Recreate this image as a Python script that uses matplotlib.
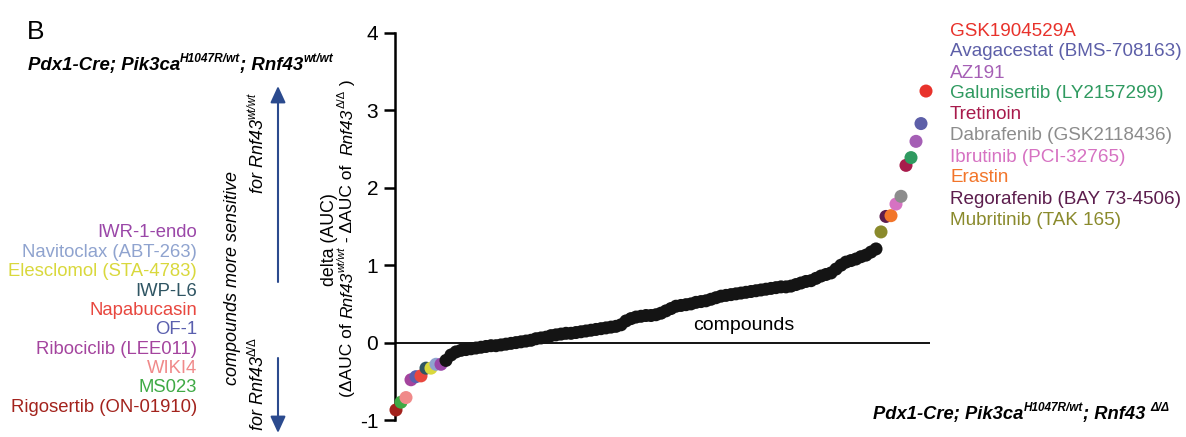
import numpy as np
import matplotlib
matplotlib.use('Agg')
import matplotlib.pyplot as plt

W, H = 1186, 437

# compounds more sensitive for Rnf43 del/del (lowest delta first)
left_names = ['Rigosertib (ON-01910)', 'MS023', 'WIKI4', 'Ribociclib (LEE011)', 'OF-1',
              'Napabucasin', 'IWP-L6', 'Elesclomol (STA-4783)', 'Navitoclax (ABT-263)', 'IWR-1-endo']
left_vals = [-0.87, -0.77, -0.71, -0.48, -0.44, -0.43, -0.33, -0.33, -0.28, -0.28]
left_colors = ['#a3231d', '#3faa45', '#f08a8a', '#a4449e', '#5a5fae',
               '#e8473f', '#2f5563', '#d9d83c', '#8fa3cf', '#9a47a8']

# all other compounds, sorted
mid_vals = [-0.23, -0.16, -0.12, -0.10, -0.09, -0.08, -0.07, -0.06, -0.05, -0.04,
            -0.04, -0.03, -0.02, -0.01, 0.00, 0.01, 0.02, 0.03, 0.05, 0.06,
            0.07, 0.09, 0.10, 0.11, 0.12, 0.12, 0.13, 0.14, 0.15, 0.16,
            0.17, 0.18, 0.19, 0.20, 0.21, 0.23, 0.28, 0.31, 0.33, 0.34,
            0.35, 0.35, 0.36, 0.38, 0.41, 0.44, 0.47, 0.48, 0.49, 0.50,
            0.52, 0.53, 0.54, 0.56, 0.58, 0.60, 0.61, 0.62, 0.63, 0.64,
            0.65, 0.66, 0.67, 0.68, 0.69, 0.70, 0.71, 0.72, 0.72, 0.73,
            0.75, 0.77, 0.79, 0.80, 0.83, 0.86, 0.88, 0.90, 0.95, 1.00,
            1.04, 1.06, 1.08, 1.11, 1.13, 1.17, 1.21]

# compounds more sensitive for Rnf43 wt/wt (lowest delta first)
right_names = ['Mubritinib (TAK 165)', 'Regorafenib (BAY 73-4506)', 'Erastin', 'Ibrutinib (PCI-32765)',
               'Dabrafenib (GSK2118436)', 'Tretinoin', 'Galunisertib (LY2157299)', 'AZ191',
               'Avagacestat (BMS-708163)', 'GSK1904529A']
right_vals = [1.43, 1.63, 1.64, 1.79, 1.89, 2.29, 2.39, 2.60, 2.83, 3.25]
right_colors = ['#8a8a2c', '#5c1d4d', '#f2752a', '#d672c2', '#8c8c8c',
                '#a81b4c', '#2f9a60', '#a55fb5', '#5d5fa8', '#e8322b']

plt.rcParams['font.family'] = ['Liberation Sans', 'DejaVu Sans']
plt.rcParams['axes.unicode_minus'] = False

vals = left_vals + mid_vals + right_vals
cols = left_colors + ['#141414'] * len(mid_vals) + right_colors
idx = np.arange(len(vals))

fig = plt.figure(figsize=(W / 100, H / 100), dpi=100)
ax = fig.add_axes([395 / W, 17 / H, 535 / W, 387 / H])
ax.axhline(0, color='black', lw=1.3, zorder=1)
ax.scatter(idx, vals, s=88, c=cols, edgecolors='none', zorder=3, clip_on=False)
ax.set_xlim(-0.2, len(vals) - 0.2)
ax.set_ylim(-1, 4)
ax.set_yticks([-1, 0, 1, 2, 3, 4])
ax.set_xticks([])
for s in ['top', 'right', 'bottom']:
    ax.spines[s].set_visible(False)
ax.spines['left'].set_linewidth(1.8)
ax.tick_params(axis='y', length=8, width=1.8, labelsize=15, pad=4)
ax.text(len(vals) * 0.65, 0.22, 'compounds', fontsize=14, ha='center', va='center')


def px(x, y):
    return x / W, 1 - y / H


def rich(x, y, parts, size, rot=0, **kw):
    # parts: (text, is_superscript, italic); x, y are image pixels of the baseline start
    r = fig.canvas.get_renderer()
    pos = 0.0
    for s, sup, it in parts:
        fs = size * 0.64 if sup else size
        shift = size * 1.389 * 0.42 if sup else 0
        if rot == 0:
            tx, ty = x + pos, y - shift
        else:
            tx, ty = x - shift, y - pos
        t = fig.text(*px(tx, ty), s, fontsize=fs, rotation=rot, rotation_mode='anchor',
                     ha='left', va='baseline', style='italic' if it else 'normal', **kw)
        bb = t.get_window_extent(r)
        pos += bb.width if rot == 0 else bb.height


# compound labels
for i, (n, c) in enumerate(zip(left_names[::-1], left_colors[::-1])):
    fig.text(*px(197, 233 + i * 19.35), n, color=c, fontsize=13.3, ha='right', va='center')
for i, (n, c) in enumerate(zip(right_names[::-1], right_colors[::-1])):
    fig.text(*px(950, 31 + i * 21.0), n, color=c, fontsize=13.6, ha='left', va='center')

fig.text(*px(27, 32), 'B', fontsize=19, ha='left', va='center')

rich(28, 70, [('Pdx1-Cre; Pik3ca', False, True), ('H1047R/wt', True, True),
              ('; Rnf43', False, True), ('wt/wt', True, True)], 13.4, weight='bold')
rich(873, 419, [('Pdx1-Cre; Pik3ca', False, True), ('H1047R/wt', True, True),
                ('; Rnf43 ', False, True), ('\u0394/\u0394', True, True)], 13.2, weight='bold')

# y label
fig.text(*px(334, 240), 'delta (AUC)', fontsize=12.8, rotation=90, rotation_mode='anchor',
         ha='center', va='baseline')
rich(352, 397, [('(\u0394AUC of ', False, False), ('Rnf43', False, True), ('wt/wt', True, True),
                (' - \u0394AUC of  ', False, False), ('Rnf43', False, True), ('\u0394/\u0394', True, False),
                (' )', False, False)], 12.5, rot=90)

# sensitivity annotation
fig.text(*px(237, 278), 'compounds more sensitive', fontsize=13, style='italic', rotation=90,
         rotation_mode='anchor', ha='center', va='baseline')
rich(263, 193, [('for Rnf43', False, True), ('wt/wt', True, True)], 13, rot=90)
rich(263, 430, [('for Rnf43', False, True), ('\u0394/\u0394', True, False)], 13, rot=90)

arrow_col = '#2b4a8e'
for a, b in [((278, 282), (278, 86)), ((278, 358), (278, 433))]:
    fig.patches.append(matplotlib.patches.FancyArrowPatch(
        px(*a), px(*b), transform=fig.transFigure, arrowstyle='-|>,head_length=5,head_width=2.3',
        color=arrow_col, lw=1.5, mutation_scale=2, shrinkA=0, shrinkB=0))

fig.savefig('out.png', dpi=100)
